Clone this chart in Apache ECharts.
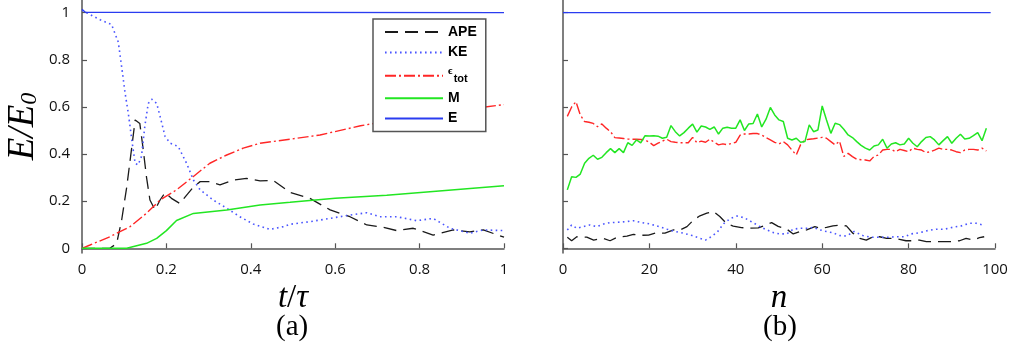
<!DOCTYPE html>
<html><head><meta charset="utf-8">
<script src="https://cdn.jsdelivr.net/npm/echarts@6/dist/echarts.min.js"></script>
<style>html,body{margin:0;padding:0;background:#fff}#c{width:1011px;height:354px}</style>
</head><body><div id="c"></div>
<script>
// ---------- data ----------
const legendNames = ['APE', 'KE', 'eps', 'M', 'E'];
const yTicks = [0, 0.2, 0.4, 0.6, 0.8, 1];

// panel (a): t/tau
const apeT = [0,0.066,0.082,0.094,0.106,0.118,0.126,0.137,0.145,0.153,0.161,0.173,0.185,0.197,0.212,0.232,0.248,0.264,0.28,0.303,0.327,0.359,0.39,0.422,0.453,0.493,0.54,0.588,0.635,0.675,0.714,0.746,0.785,0.832,0.88,0.919,0.951,1.0];
const apeV = [0,0,0.02,0.12,0.26,0.43,0.545,0.53,0.42,0.30,0.205,0.163,0.205,0.236,0.212,0.19,0.226,0.26,0.283,0.283,0.269,0.29,0.297,0.286,0.288,0.237,0.212,0.163,0.134,0.099,0.089,0.075,0.085,0.056,0.078,0.07,0.078,0.047];
const keT = [0,0.043,0.07,0.086,0.094,0.102,0.11,0.118,0.126,0.133,0.141,0.149,0.157,0.165,0.177,0.185,0.197,0.209,0.228,0.248,0.264,0.28,0.311,0.343,0.374,0.406,0.445,0.477,0.493,0.54,0.588,0.635,0.675,0.706,0.746,0.793,0.832,0.872,0.919,0.951,1.0];
const keV = [1.01,0.97,0.95,0.875,0.77,0.66,0.57,0.46,0.36,0.354,0.39,0.52,0.615,0.633,0.615,0.56,0.474,0.446,0.432,0.36,0.29,0.248,0.205,0.17,0.134,0.103,0.08,0.092,0.102,0.113,0.127,0.141,0.151,0.134,0.134,0.117,0.127,0.085,0.064,0.078,0.075];
const epsT = [0,0.019,0.066,0.114,0.153,0.185,0.224,0.264,0.303,0.343,0.382,0.422,0.493,0.564,0.66,0.8,0.955,1.0];
const epsV = [0,0.014,0.049,0.092,0.149,0.205,0.248,0.305,0.361,0.396,0.425,0.446,0.463,0.481,0.52,0.565,0.60,0.61];
const mT = [0,0.106,0.153,0.177,0.2,0.224,0.264,0.343,0.422,0.493,0.6,0.722,1.0];
const mV = [0,0,0.021,0.042,0.075,0.118,0.148,0.163,0.184,0.195,0.212,0.225,0.266];
const eT = [0,0.008,1.0];
const eV = [1.015,1.002,1.0];

// panel (b): n
const nGrid = Array.from({length: 98}, (_, i) => i + 1);
const mRV = [.248,.304,.301,.315,.361,.382,.395,.378,.386,.406,
 .423,.406,.423,.406,.448,.437,.460,.448,.478,.477,
 .478,.476,.467,.471,.521,.495,.477,.491,.510,.527,
 .493,.519,.515,.505,.515,.485,.510,.514,.510,.510,
 .545,.500,.528,.530,.570,.515,.548,.598,.566,.545,
 .538,.467,.460,.467,.450,.453,.524,.495,.502,.604,
 .545,.488,.531,.525,.505,.481,.470,.453,.437,.425,
 .417,.434,.439,.463,.425,.443,.448,.439,.443,.467,
 .446,.431,.453,.470,.474,.460,.439,.457,.474,.446,
 .467,.484,.464,.467,.478,.491,.457,.510];
const epsRV = [.56,.60,.622,.566,.538,.535,.530,.516,.528,.51,
 .495,.47,.468,.466,.464,.463,.463,.462,.46,.45,
 .436,.446,.455,.463,.453,.45,.448,.448,.448,.471,
 .448,.455,.45,.463,.45,.439,.443,.44,.445,.45,
 .48,.485,.485,.487,.487,.481,.47,.46,.45,.443,
 .453,.439,.417,.396,.44,.46,.463,.465,.468,.471,
 .467,.453,.439,.455,.39,.403,.389,.378,.376,.375,
 .371,.39,.396,.417,.42,.42,.41,.42,.415,.41,
 .425,.42,.417,.406,.41,.417,.425,.42,.42,.417,
 .41,.406,.417,.42,.42,.417,.425,.413];
const apeRN = [1,2,3.2,5.5,7.1,9.4,10.9,12.5,14.8,16.3,17.9,19.8,21.7,23.6,25.6,27.1,28.7,30.2,31.7,33.3,34.8,36.3,37.9,39.4,41.3,43.2,45.2,46.7,48.3,49.8,51.8,53.3,54.9,56.4,58.3,59.5,61,62.5,64,65.6,67.1,68.7,70.2,71.8,73.3,74.9,76.4,77.9,79.4,81,82.5,84.1,85.6,87.2,88.7,90.2,91.8,93.3,94.9,96.4,97.5];
const apeRV = [.047,.032,.049,.047,.035,.042,.032,.047,.052,.059,.055,.056,.066,.064,.078,.078,.092,.12,.138,.149,.157,.135,.104,.094,.088,.085,.087,.097,.109,.093,.081,.061,.071,.078,.092,.085,.089,.095,.098,.095,.064,.042,.035,.049,.049,.042,.042,.038,.032,.032,.035,.028,.028,.028,.028,.028,.032,.042,.035,.045,.049];
const keRN = [1,2,3.2,4.7,6.2,7.8,9.4,10.9,12.5,14.4,16.3,18.3,20.2,22.2,24.1,26,27.9,29.9,31.8,33,34.1,35.7,37.2,38.8,40.3,41.9,43.4,45.4,46.9,48.8,50.2,51.8,53.3,54.9,56.4,57.9,59.5,61,62.5,64,65.6,67.4,69.4,71.3,73.3,75.2,77.1,79.1,80.6,82.5,84.4,86.4,88.3,90.2,92.2,94.1,95.7,97.1];
const keRV = [.078,.099,.085,.092,.099,.092,.103,.109,.11,.113,.117,.109,.103,.092,.081,.071,.064,.054,.042,.035,.047,.068,.105,.127,.137,.13,.115,.094,.08,.066,.061,.061,.081,.085,.085,.089,.078,.071,.066,.054,.052,.071,.054,.047,.047,.047,.049,.049,.061,.066,.075,.081,.081,.089,.095,.106,.106,.099];
const eRN = [0, 99];
const eRV = [1.0, 1.0];

// ---------- styles ----------
const zip = (xs, ys) => xs.map((x, i) => [x, ys[i]]);
const COL = { APE: '#1a1a1a', KE: '#4a55ff', eps: '#ff2626', M: '#22e622', E: '#2a3cf0' };
const LS = {
  APE: { color: COL.APE, width: 1.3, type: [13, 7] },
  KE: { color: COL.KE, width: 1.6, type: [1.6, 3.4] },
  eps: { color: COL.eps, width: 1.4, type: [11, 3, 2, 3] },
  M: { color: COL.M, width: 1.5, type: 'solid' },
  E: { color: COL.E, width: 1.3, type: 'solid' }
};
function mk(name, idx, data) {
  return { name, type: 'line', xAxisIndex: idx, yAxisIndex: idx, data, symbol: 'none',
    showSymbol: false, lineStyle: LS[name], itemStyle: { color: COL[name] }, animation: false, z: 3 };
}
const axisLine = { show: true, lineStyle: { color: '#555', width: 1.5 } };
const tickFont = { fontFamily: 'Open Sans', fontSize: 15, color: '#111' };
const mathFont = { fontFamily: 'Liberation Serif', fontStyle: 'italic', fontSize: 33, color: '#000' };
const yMath = Object.assign({}, mathFont, { fontSize: 37 });

const chart = echarts.init(document.getElementById('c'), null, { renderer: 'canvas' });
chart.setOption({
  animation: false,
  backgroundColor: '#fff',
  grid: [
    { left: 82, top: 0, width: 422, height: 253 },
    { left: 563, top: 0, width: 432, height: 253 }
  ],
  xAxis: [
    { type: 'value', gridIndex: 0, min: 0, max: 1, interval: 0.2,
      axisLine, splitLine: { show: false },
      axisTick: { inside: true, length: 5, lineStyle: { color: '#555', width: 1.2 } },
      axisLabel: Object.assign({ margin: 9, formatter: v => String(+v.toFixed(1)) }, tickFont),
      name: '{i|t}{n|/}{i|τ}', nameLocation: 'middle', nameGap: 26,
      nameTextStyle: Object.assign({ rich: { i: mathFont, n: Object.assign({}, mathFont, { fontStyle: 'normal' }) } }, mathFont) },
    { type: 'value', gridIndex: 1, min: 0, max: 100, interval: 20,
      axisLine, splitLine: { show: false },
      axisTick: { inside: true, length: 5, lineStyle: { color: '#555', width: 1.2 } },
      axisLabel: Object.assign({ margin: 9 }, tickFont),
      name: 'n', nameLocation: 'middle', nameGap: 26, nameTextStyle: mathFont }
  ],
  yAxis: [
    { type: 'value', gridIndex: 0, min: -0.02, max: 1.054,
      axisLine, splitLine: { show: false },
      axisTick: { inside: true, length: 5, customValues: yTicks, lineStyle: { color: '#555', width: 1.2 } },
      axisLabel: Object.assign({ margin: 12, customValues: yTicks, formatter: v => String(+(+v).toFixed(1)) }, tickFont),
      name: '{i|E/E}{s|0}', nameLocation: 'middle', nameRotate: 90, nameGap: 40,
      nameTextStyle: Object.assign({ rich: { i: yMath,
        s: { fontFamily: 'Liberation Serif', fontSize: 24, color: '#000', padding: [12, 0, 0, 0] } } }, yMath) },
    { type: 'value', gridIndex: 1, min: -0.02, max: 1.054,
      axisLine, splitLine: { show: false },
      axisTick: { inside: true, length: 5, customValues: yTicks, lineStyle: { color: '#555', width: 1.2 } },
      axisLabel: { show: false } }
  ],
  legend: {
    left: 373, top: 19, orient: 'vertical', data: legendNames,
    itemWidth: 58, itemHeight: 14, itemGap: 6.4, padding: [6, 9, 6, 11],
    backgroundColor: '#fff', borderColor: '#555', borderWidth: 1.5, borderRadius: 0,
    selectedMode: false, z: 10,
    itemStyle: { opacity: 0, borderWidth: 0 },
    formatter: n => n === 'eps' ? '{e|ϵ}{s|tot}' : n,
    textStyle: { fontFamily: 'Liberation Sans', fontWeight: 'bold', fontSize: 14, color: '#000',
      rich: {
        e: { fontFamily: 'Liberation Serif', fontSize: 11, color: '#000', padding: [0, 1, 9, 0] },
        s: { fontFamily: 'Liberation Sans', fontWeight: 'bold', fontSize: 11, color: '#000', padding: [7, 0, 0, 0] }
      } }
  },
  graphic: [
    { type: 'text', left: 276, top: 313, style: { text: '(a)', font: '29px "Liberation Serif"', fill: '#000' } },
    { type: 'text', left: 763, top: 313, style: { text: '(b)', font: '29px "Liberation Serif"', fill: '#000' } }
  ],
  series: [
    mk('APE', 0, zip(apeT, apeV)),
    mk('KE', 0, zip(keT, keV)),
    mk('eps', 0, zip(epsT, epsV)),
    mk('M', 0, zip(mT, mV)),
    mk('E', 0, zip(eT, eV)),
    mk('APE', 1, zip(apeRN, apeRV)),
    mk('KE', 1, zip(keRN, keRV)),
    mk('eps', 1, zip(nGrid, epsRV)),
    mk('M', 1, zip(nGrid, mRV)),
    mk('E', 1, zip(eRN, eRV))
  ]
});
</script>
</body></html>
